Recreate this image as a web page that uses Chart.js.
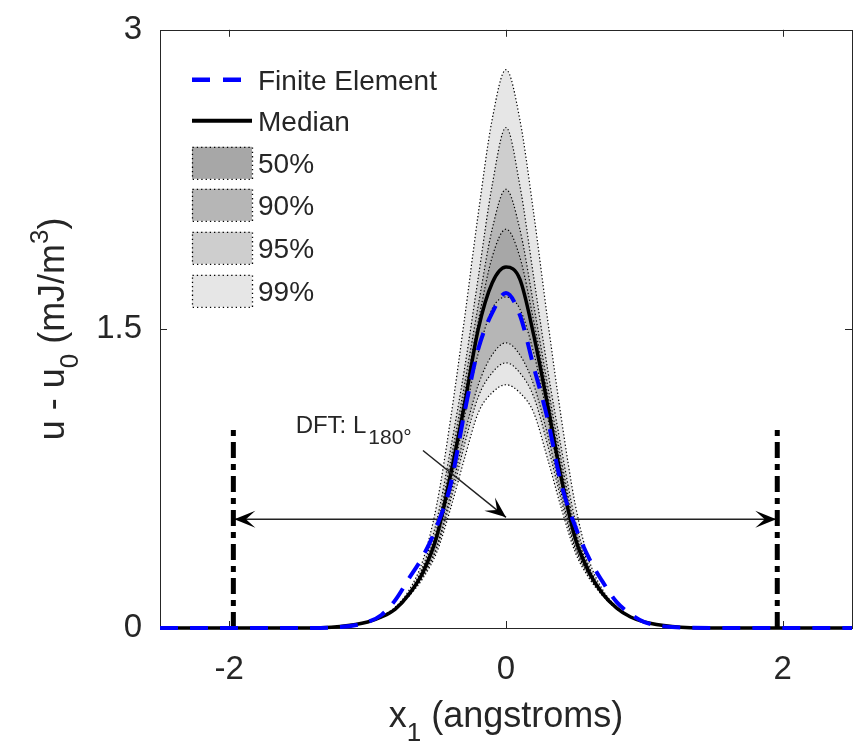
<!DOCTYPE html>
<html><head><meta charset="utf-8">
<script src="https://cdn.jsdelivr.net/npm/chart.js@4.4.1/dist/chart.umd.min.js"></script>
<style>html,body{margin:0;padding:0;background:#fff}#wrap{width:861px;height:755px}</style>
</head><body><div id="wrap"><canvas id="c" width="861" height="755"></canvas></div>
<script>
// ---- data ----
const xMain = [-2.5, -1.5, -1.2, -1.0, -0.9, -0.8, -0.7, -0.6, -0.5, -0.4, -0.3, -0.2, -0.1, 0, 0.1, 0.2, 0.3, 0.4, 0.5, 0.6, 0.7, 0.8, 0.9, 1.0, 1.2, 1.5, 2.5];
const medianVals = [0, 0, 0.008, 0.03, 0.055, 0.095, 0.17, 0.28, 0.46, 0.77, 1.12, 1.50, 1.73, 1.81, 1.75, 1.47, 1.12, 0.75, 0.45, 0.28, 0.17, 0.10, 0.055, 0.03, 0.008, 0, 0];
const feVals = [0, 0, 0.005, 0.03, 0.065, 0.14, 0.25, 0.36, 0.51, 0.72, 1.08, 1.40, 1.58, 1.68, 1.57, 1.31, 1.05, 0.72, 0.51, 0.35, 0.23, 0.13, 0.07, 0.03, 0.005, 0, 0];

const xBand = [-1.0, -0.9, -0.8, -0.7, -0.6, -0.5, -0.4, -0.3, -0.2, -0.1, 0, 0.1, 0.2, 0.3, 0.4, 0.5, 0.6, 0.7, 0.8, 0.9, 1.0];
const upper99 = [0.032, 0.058, 0.105, 0.19, 0.34, 0.62, 1.05, 1.55, 2.08, 2.55, 2.80, 2.55, 2.08, 1.55, 1.05, 0.62, 0.34, 0.19, 0.105, 0.058, 0.032];
const upper95 = [0.031, 0.056, 0.10, 0.18, 0.31, 0.54, 0.90, 1.30, 1.76, 2.22, 2.51, 2.22, 1.76, 1.30, 0.90, 0.54, 0.31, 0.18, 0.10, 0.056, 0.031];
const upper90 = [0.03, 0.055, 0.10, 0.175, 0.30, 0.50, 0.84, 1.22, 1.62, 2.00, 2.20, 2.00, 1.62, 1.22, 0.84, 0.50, 0.30, 0.175, 0.10, 0.055, 0.03];
const upper50 = [0.03, 0.055, 0.10, 0.172, 0.29, 0.48, 0.80, 1.17, 1.54, 1.86, 2.00, 1.86, 1.54, 1.17, 0.80, 0.48, 0.29, 0.172, 0.10, 0.055, 0.03];
const lower50 = [0.03, 0.055, 0.099, 0.168, 0.275, 0.44, 0.72, 1.06, 1.38, 1.60, 1.66, 1.60, 1.38, 1.06, 0.72, 0.44, 0.275, 0.168, 0.099, 0.055, 0.03];
const lower90 = [0.03, 0.054, 0.098, 0.165, 0.265, 0.41, 0.67, 0.97, 1.22, 1.37, 1.43, 1.37, 1.22, 0.97, 0.67, 0.41, 0.265, 0.165, 0.098, 0.054, 0.03];
const lower95 = [0.03, 0.054, 0.097, 0.165, 0.26, 0.40, 0.64, 0.92, 1.16, 1.28, 1.33, 1.28, 1.16, 0.92, 0.64, 0.40, 0.26, 0.165, 0.097, 0.054, 0.03];
const lower99 = [0.03, 0.053, 0.095, 0.16, 0.25, 0.38, 0.60, 0.85, 1.08, 1.18, 1.22, 1.18, 1.08, 0.85, 0.60, 0.38, 0.25, 0.16, 0.095, 0.053, 0.03];

const xTicks = [-2, 0, 2];
const yTicks = [0, 1.5, 3];
const dftX = [-1.97, 1.96];
const dftTop = 1.0;
const arrowY = 0.545;
const legendLabels = ['Finite Element', 'Median', '50%', '90%', '95%', '99%'];
const annotText = ['DFT: L', '180°'];
const annotAt = [-1.52, 0.98];
const pointerFrom = [-0.60, 0.89];
const pointerTo = [0.0, 0.555];

// ---- styling ----
const FONT = '"Liberation Sans", Arial, Helvetica, sans-serif';
const TXT = '#262626';
const bandFill = {'50%': '#a7a7a7', '90%': '#b6b6b6', '95%': '#cecece', '99%': '#e6e6e6'};
const dotted = [1.3, 2.2];

const pts = (xs, ys) => xs.map((x, i) => ({x: x, y: ys[i]}));
function band(label, up, lo) {
  return [
    {label: label + ' upper', data: pts(xBand, up), borderColor: '#000', borderWidth: 1.2, borderDash: dotted,
     backgroundColor: bandFill[label], fill: '+1', pointRadius: 0, cubicInterpolationMode: 'monotone'},
    {label: label + ' lower', data: pts(xBand, lo), borderColor: '#000', borderWidth: 1.2, borderDash: dotted,
     fill: false, pointRadius: 0, cubicInterpolationMode: 'monotone'}
  ];
}

const datasets = [
  {label: legendLabels[0], data: pts(xMain, feVals), borderColor: '#0000ff', borderWidth: 4, borderDash: [18, 12],
   pointRadius: 0, fill: false, cubicInterpolationMode: 'monotone', clip: 6},
  {label: legendLabels[1], data: pts(xMain, medianVals), borderColor: '#000', borderWidth: 3.5,
   pointRadius: 0, fill: false, cubicInterpolationMode: 'monotone', clip: 6},
  {label: 'DFT left', data: [{x: dftX[0], y: 0}, {x: dftX[0], y: dftTop}], borderColor: '#000', borderWidth: 5,
   borderDash: [16, 6, 6, 6], pointRadius: 0, fill: false, clip: 6},
  {label: 'DFT right', data: [{x: dftX[1], y: 0}, {x: dftX[1], y: dftTop}], borderColor: '#000', borderWidth: 5,
   borderDash: [16, 6, 6, 6], pointRadius: 0, fill: false, clip: 6},
  {label: 'L180', data: [{x: dftX[0], y: arrowY}, {x: dftX[1], y: arrowY}], borderColor: '#222', borderWidth: 1.5,
   pointRadius: 0, fill: false},
  ...band('50%', upper50, lower50),
  ...band('90%', upper90, lower90),
  ...band('95%', upper95, lower95),
  ...band('99%', upper99, lower99)
];

function arrowHead(ctx, tipX, tipY, dirX, dirY, L, W) {
  const n = Math.hypot(dirX, dirY); const ux = dirX / n, uy = dirY / n; const px = -uy, py = ux;
  ctx.beginPath();
  ctx.moveTo(tipX, tipY);
  ctx.lineTo(tipX - ux * L + px * W / 2, tipY - uy * L + py * W / 2);
  ctx.lineTo(tipX - ux * L * 0.55, tipY - uy * L * 0.55);
  ctx.lineTo(tipX - ux * L - px * W / 2, tipY - uy * L - py * W / 2);
  ctx.closePath();
  ctx.fill();
}

const framePlugin = {
  id: 'frame',
  beforeDatasetsDraw(chart) {
    const {ctx, chartArea: a, scales: {x, y}} = chart;
    ctx.save();
    ctx.strokeStyle = TXT; ctx.lineWidth = 1;
    ctx.strokeRect(Math.round(a.left) + 0.5, Math.round(a.top) + 0.5, Math.round(a.right - a.left), Math.round(a.bottom - a.top));
    const tl = 7;
    ctx.beginPath();
    xTicks.forEach(v => { const p = Math.round(x.getPixelForValue(v)) + 0.5;
      ctx.moveTo(p, a.bottom); ctx.lineTo(p, a.bottom - tl); ctx.moveTo(p, a.top); ctx.lineTo(p, a.top + tl); });
    yTicks.forEach(v => { const p = Math.round(y.getPixelForValue(v)) + 0.5;
      ctx.moveTo(a.left, p); ctx.lineTo(a.left + tl, p); ctx.moveTo(a.right, p); ctx.lineTo(a.right - tl, p); });
    ctx.stroke();
    ctx.restore();
  },
  afterDatasetsDraw(chart) {
    const {ctx, chartArea: a, scales: {x, y}} = chart;
    ctx.save();
    // arrowheads of the L180 double arrow
    ctx.fillStyle = '#000';
    const ay = y.getPixelForValue(arrowY);
    arrowHead(ctx, x.getPixelForValue(dftX[0]) + 1, ay, -1, 0, 21, 17);
    arrowHead(ctx, x.getPixelForValue(dftX[1]) - 1, ay, 1, 0, 21, 17);
    // pointer arrow
    const fx = x.getPixelForValue(pointerFrom[0]), fy = y.getPixelForValue(pointerFrom[1]);
    const tx = x.getPixelForValue(pointerTo[0]), ty = y.getPixelForValue(pointerTo[1]);
    ctx.strokeStyle = '#222'; ctx.lineWidth = 1.5;
    ctx.beginPath(); ctx.moveTo(fx, fy); ctx.lineTo(tx, ty); ctx.stroke();
    arrowHead(ctx, tx, ty, tx - fx, ty - fy, 21, 17);
    // annotation text
    const axp = x.getPixelForValue(annotAt[0]), ayp = y.getPixelForValue(annotAt[1]);
    ctx.fillStyle = TXT; ctx.textBaseline = 'alphabetic'; ctx.textAlign = 'left';
    ctx.font = '24px ' + FONT;
    ctx.fillText(annotText[0], axp, ayp);
    const w = ctx.measureText(annotText[0]).width;
    ctx.font = '21px ' + FONT;
    ctx.fillText(annotText[1], axp + w + 2, ayp + 11);

    // legend
    const lx = a.left + 32, tx0 = a.left + 98;
    const rows = [a.top + 50, a.top + 91, a.top + 133, a.top + 175, a.top + 218, a.top + 261];
    ctx.lineCap = 'butt';
    ctx.strokeStyle = '#0000ff'; ctx.lineWidth = 4.5; ctx.setLineDash([18, 13]);
    ctx.beginPath(); ctx.moveTo(lx, rows[0]); ctx.lineTo(lx + 49, rows[0]); ctx.stroke();
    ctx.setLineDash([]); ctx.strokeStyle = '#000'; ctx.lineWidth = 4;
    ctx.beginPath(); ctx.moveTo(lx, rows[1]); ctx.lineTo(lx + 60, rows[1]); ctx.stroke();
    ['50%', '90%', '95%', '99%'].forEach((k, i) => {
      const cy = rows[i + 2];
      ctx.fillStyle = bandFill[k];
      ctx.fillRect(lx, cy - 16, 60, 32);
      ctx.strokeStyle = '#000'; ctx.lineWidth = 1.3; ctx.setLineDash([1.3, 3]);
      ctx.strokeRect(lx + 0.5, cy - 16 + 0.5, 60, 32);
      ctx.setLineDash([]);
    });
    ctx.fillStyle = TXT; ctx.font = '28px ' + FONT; ctx.textBaseline = 'middle';
    legendLabels.forEach((t, i) => ctx.fillText(t, tx0, rows[i] + 2));

    // axis titles
    ctx.textBaseline = 'alphabetic';
    // x title: x_1 (angstroms)
    const parts = [['x', 36, 0], ['1', 26, 14], [' (angstroms)', 36, 0]];
    let total = 0; parts.forEach(p => { ctx.font = p[1] + 'px ' + FONT; total += ctx.measureText(p[0]).width; });
    let cx = (a.left + a.right) / 2 - total / 2; const by = 727;
    parts.forEach(p => { ctx.font = p[1] + 'px ' + FONT; ctx.fillText(p[0], cx, by + p[2]); cx += ctx.measureText(p[0]).width; });
    // y title: u - u_0 (mJ/m^3)
    const yparts = [['u - u', 36, 0], ['0', 26, 14], [' (mJ/m', 36, 0], ['3', 26, -16], [')', 36, 0]];
    total = 0; yparts.forEach(p => { ctx.font = p[1] + 'px ' + FONT; total += ctx.measureText(p[0]).width; });
    ctx.translate(64, (a.top + a.bottom) / 2);
    ctx.rotate(-Math.PI / 2);
    cx = -total / 2;
    yparts.forEach(p => { ctx.font = p[1] + 'px ' + FONT; ctx.fillText(p[0], cx, p[2]); cx += ctx.measureText(p[0]).width; });
    ctx.restore();
  }
};

new Chart(document.getElementById('c'), {
  type: 'line',
  data: {datasets: datasets},
  options: {
    responsive: false, animation: false, devicePixelRatio: 1,
    layout: {padding: {left: 0, right: 9, top: 22, bottom: 0}},
    plugins: {legend: {display: false}, tooltip: {enabled: false}, filler: {drawTime: 'beforeDatasetsDraw'}},
    scales: {
      x: {type: 'linear', min: -2.5, max: 2.5,
          afterBuildTicks: s => { s.ticks = xTicks.map(v => ({value: v})); },
          afterFit: s => { s.height = 127; },
          grid: {display: false}, border: {display: false},
          ticks: {padding: 14, color: TXT, font: {family: FONT, size: 33}, maxRotation: 0, callback: v => String(v)}},
      y: {type: 'linear', min: 0, max: 3,
          afterBuildTicks: s => { s.ticks = yTicks.map(v => ({value: v})); },
          afterFit: s => { s.width = 160; },
          grid: {display: false}, border: {display: false},
          ticks: {padding: 10, color: TXT, font: {family: FONT, size: 33}, callback: v => String(v)}}
    }
  },
  plugins: [framePlugin]
});
</script></body></html>
